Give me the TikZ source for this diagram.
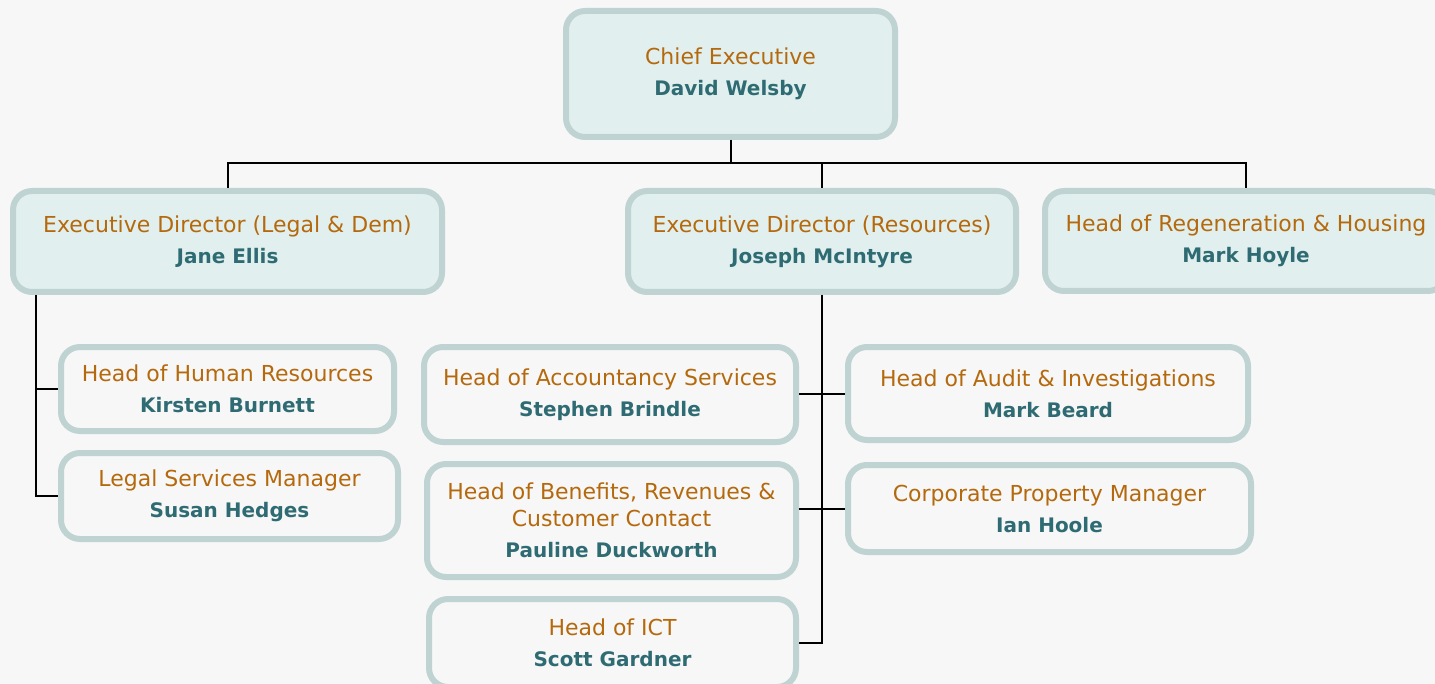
\documentclass[tikz,border=0pt]{standalone}
\usepackage{fontspec}
\setmainfont{DejaVu Sans}
\usepackage{xcolor}
\usetikzlibrary{positioning}

\definecolor{bg}{HTML}{F7F7F7}
\definecolor{execfill}{HTML}{E1F0EF}
\definecolor{boxline}{HTML}{BFD3D2}
\definecolor{posttext}{HTML}{B5690D}
\definecolor{whotext}{HTML}{2E6B72}

\newcommand{\post}[1]{\textcolor{posttext}{#1}}
\newcommand{\who}[1]{{\fontsize{10pt}{12pt}\selectfont\bfseries\textcolor{whotext}{#1}}}

\tikzset{
  exec/.style={draw=boxline, line width=3pt, fill=execfill, rounded corners=9.5pt,
    align=center, inner sep=0pt, font=\fontsize{11pt}{13.5pt}\selectfont},
  head/.style={exec, fill=bg},
  wire/.style={black, line width=1pt},
}

\begin{document}
\begin{tikzpicture}[x=0.5pt,y=-0.5pt]
\fill[bg] (0,0) rectangle (1435,684);
\useasboundingbox (0,0) rectangle (1435,684);

% top levels
\node[exec, minimum width=164.5pt, minimum height=63pt] (chief) at (730.5,74) {\post{Chief Executive}\\[2pt]\who{David Welsby}};
\node[exec, minimum width=214.5pt, minimum height=50.5pt] (legal) at (227.5,241.5) {\post{Executive Director (Legal \& Dem)}\\[2pt]\who{Jane Ellis}};
\node[exec, minimum width=194pt, minimum height=50.5pt] (res) at (822,241.5) {\post{Executive Director (Resources)}\\[2pt]\who{Joseph McIntyre}};
\node[exec, minimum width=201pt, minimum height=50pt] (regen) at (1246,241) {\post{Head of Regeneration \& Housing}\\[2pt]\who{Mark Hoyle}};

% heads under legal
\node[head, minimum width=166.5pt, minimum height=42pt] (hr) at (227.5,389) {\post{Head of Human Resources}\\[2pt]\who{Kirsten Burnett}};
\node[head, minimum width=168.5pt, minimum height=43pt] (lawyer) at (229.5,496) {\post{Legal Services Manager}\\[2pt]\who{Susan Hedges}};

% heads under resources
\node[head, minimum width=186pt, minimum height=47.5pt] (acct) at (610,394.5) {\post{Head of Accountancy Services}\\[2pt]\who{Stephen Brindle}};
\node[head, minimum width=184.5pt, minimum height=56.5pt] (benefits) at (611.5,520.5) {\post{Head of Benefits, Revenues \&}\\\post{Customer Contact}\\[2pt]\who{Pauline Duckworth}};
\node[head, minimum width=183.5pt, minimum height=44pt] (ict) at (612.5,643) {\post{Head of ICT}\\[2pt]\who{Scott Gardner}};
\node[head, minimum width=200pt, minimum height=46.5pt] (audit) at (1048,393.5) {\post{Head of Audit \& Investigations}\\[2pt]\who{Mark Beard}};
\node[head, minimum width=201.5pt, minimum height=43.5pt] (property) at (1049.5,508.5) {\post{Corporate Property Manager}\\[2pt]\who{Ian Hoole}};

% connectors
\coordinate (bus) at (730.5,163);
\draw[wire] (chief.south) -- (bus);
\draw[wire] (legal.north) |- (bus) -| (regen.north);
\draw[wire] (bus -| res.north) -- (res.north);

\draw[wire] ([xshift=13pt]legal.south west) |- (lawyer.west);
\draw[wire] (hr.west) -- +(-11pt,0);

\draw[wire] (res.south) |- (ict.east);
\draw[wire] (audit.west) -- (audit.west -| acct.east);
\draw[wire] (property.west) -- (property.west -| benefits.east);
\end{tikzpicture}
\end{document}
